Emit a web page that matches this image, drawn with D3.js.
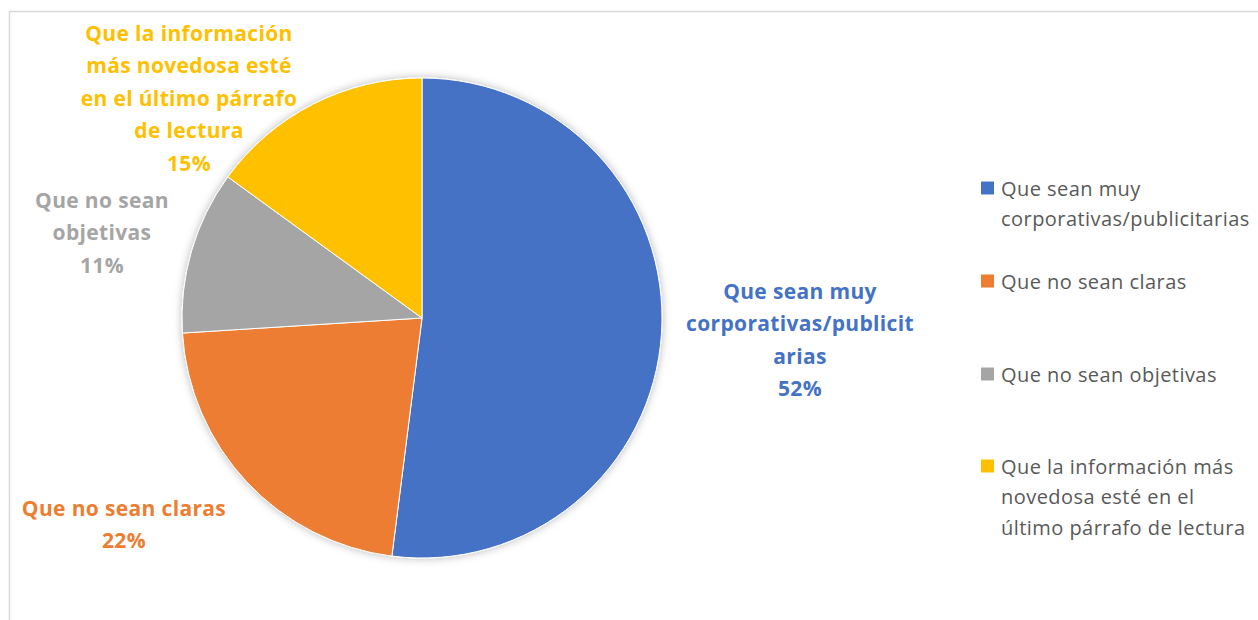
<!DOCTYPE html>
<html>
<head>
<meta charset="utf-8">
<script src="https://cdn.jsdelivr.net/npm/d3@7"></script>
<style>
  html, body { margin: 0; padding: 0; background: #fff; }
  svg { display: block; }
</style>
</head>
<body>
<svg id="chart" width="1258" height="620"></svg>
<script>
// Survey answers and their shares (percent)
const categories = [
  "Que sean muy corporativas/publicitarias",
  "Que no sean claras",
  "Que no sean objetivas",
  "Que la información más novedosa esté en el último párrafo de lectura"
];
const values = [52, 22, 11, 15];
const colors = ["#4472C4", "#ED7D31", "#A5A5A5", "#FFC000"];

// Wrapped text for the data labels and legend entries
const labelLines = [
  ["Que sean muy", "corporativas/publicit", "arias"],
  ["Que no sean claras"],
  ["Que no sean", "objetivas"],
  ["Que la información", "más novedosa esté", "en el último párrafo", "de lectura"]
];
const legendLines = [
  ["Que sean muy", "corporativas/publicitarias"],
  ["Que no sean claras"],
  ["Que no sean objetivas"],
  ["Que la información más", "novedosa esté en el", "último párrafo de lectura"]
];

// Layout
const cx = 422, cy = 318, radius = 240;
const labelPos = [[800, 291], [124, 508], [102, 200], [189, 33]];
const legendPos = [188, 281, 374, 466];
const labelLH = 32.4, legendLH = 30.3;

const svg = d3.select("#chart");

// Chart area border
svg.append("rect")
  .attr("x", 9.5).attr("y", 11.5)
  .attr("width", 1300).attr("height", 700)
  .attr("fill", "#fff")
  .attr("stroke", "#d9d9d9").attr("stroke-width", 1.5);

const defs = svg.append("defs");
const f = defs.append("filter").attr("id", "shadow")
  .attr("x", "-10%").attr("y", "-10%").attr("width", "120%").attr("height", "120%");
f.append("feDropShadow")
  .attr("dx", 0).attr("dy", 0).attr("stdDeviation", 4)
  .attr("flood-color", "#000").attr("flood-opacity", 0.28);

const pie = d3.pie().sort(null).value(d => d);
const arcs = pie(values);
const arc = d3.arc().innerRadius(0).outerRadius(radius);

const g = svg.append("g").attr("transform", `translate(${cx},${cy})`);
g.append("g").attr("filter", "url(#shadow)")
  .selectAll("path")
  .data(arcs)
  .join("path")
  .attr("d", arc)
  .attr("fill", (d, i) => colors[i])
  .attr("stroke", "#fff")
  .attr("stroke-width", 1);

// Data labels
const labels = svg.append("g")
  .attr("font-family", "'Open Sans', sans-serif")
  .attr("font-weight", "bold")
  .attr("font-size", 21)
  .attr("letter-spacing", 0.35)
  .attr("text-anchor", "middle");

arcs.forEach((a, i) => {
  const lines = labelLines[i].concat([d3.format(".0%")(values[i] / 100)]);
  const t = labels.append("text")
    .attr("fill", colors[i])
    .attr("x", labelPos[i][0])
    .attr("y", labelPos[i][1])
    .attr("dominant-baseline", "central");
  lines.forEach((ln, k) => {
    t.append("tspan")
      .attr("x", labelPos[i][0])
      .attr("dy", k === 0 ? 0 : labelLH)
      .text(ln);
  });
});

// Legend
const legend = svg.append("g")
  .attr("font-family", "'Open Sans', sans-serif")
  .attr("font-size", 20)
  .attr("letter-spacing", 0.45)
  .attr("fill", "#595959");

categories.forEach((c, i) => {
  const y0 = legendPos[i];
  legend.append("rect")
    .attr("x", 981).attr("y", y0 - 6.5)
    .attr("width", 13).attr("height", 13)
    .attr("fill", colors[i]);
  const t = legend.append("text")
    .attr("x", 1001).attr("y", y0)
    .attr("dominant-baseline", "central");
  legendLines[i].forEach((ln, k) => {
    t.append("tspan")
      .attr("x", 1001)
      .attr("dy", k === 0 ? 0 : legendLH)
      .text(ln);
  });
});
</script>
</body>
</html>
